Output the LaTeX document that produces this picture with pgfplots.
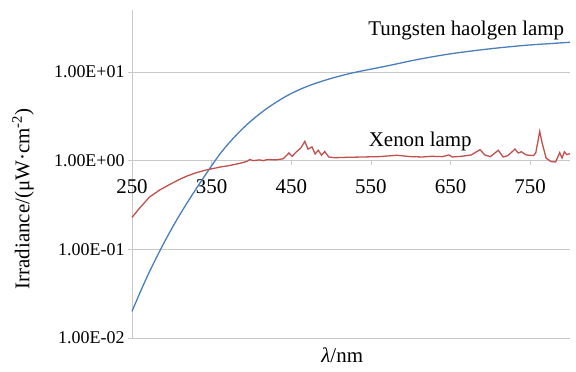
\documentclass[border=0pt]{standalone}
\usepackage{pgfplots}
\pgfplotsset{compat=1.18}
\usepackage{fontspec}
\setmainfont{Liberation Serif}
\definecolor{tblue}{HTML}{4A7EBB}
\definecolor{xred}{HTML}{C0504D}
\definecolor{gridgray}{HTML}{C8C8C8}
\begin{document}
\begin{tikzpicture}
\begin{axis}[name=ax, scale only axis, width=438bp, height=328bp,
  ymode=log, xmin=250, xmax=800, ymin=0.01, ymax=50,
  axis y line*=left, axis x line*=middle,
  axis line style={gridgray, line width=0.8pt},
  ytick={0.01,0.1,1,10}, yticklabels={1.00E-02,1.00E-01,1.00E+00,1.00E+01},
  xtick={250,350,450,550,650,750}, xticklabels={250,350,450,550,650,750},
  hide obscured x ticks=false,
  ymajorgrids, grid style={gridgray, line width=0.8pt},
  tick align=outside, major tick length=4bp, tick style={gridgray, line width=0.8pt},
  yminorticks=false, minor y tick num=0,
  xticklabel style={font=\fontsize{21}{21}\selectfont, yshift=-11bp, text=black},
  yticklabel style={font=\fontsize{18}{18}\selectfont, text=black},
  xlabel={\textit{λ}/nm},
  xlabel style={font=\fontsize{21}{21}\selectfont, at={(axis description cs:0.48,0)}, anchor=north, yshift=-6bp},
  ylabel={Irradiance/(μW·cm\textsuperscript{-2})},
  ylabel style={font=\fontsize{21}{21}\selectfont, at={(axis description cs:-0.249,0.424)}, anchor=center, rotate=0},
  clip=false,
]
\addplot[tblue, line width=1.3pt, smooth] coordinates {
(250,0.0200) (260,0.0324) (270,0.0513) (280,0.0785) (290,0.1175) (300,0.1718)
(310,0.2455) (320,0.3428) (330,0.4732) (340,0.6457) (350,0.877) (360,1.175)
(370,1.514) (380,1.905) (390,2.344) (400,2.831) (415,3.631) (430,4.498)
(445,5.420) (460,6.310) (475,7.161) (490,7.943) (505,8.710) (520,9.441)
(535,10.12) (550,10.76) (575,11.94) (600,13.34) (625,14.72) (650,16.03)
(675,17.18) (700,18.28) (725,19.28) (750,20.18) (775,20.89) (800,21.63)
};
\addplot[xred, line width=1.3pt] coordinates {
(250,0.229) (260,0.295) (272,0.389) (285,0.468) (297,0.537) (310,0.617)
(320,0.676) (331,0.733) (341,0.776) (351,0.813) (362,0.851) (372,0.879)
(383,0.923) (390,0.955) (395,0.99) (398,1.03) (402,1.00) (410,1.02)
(415,1.00) (420,1.03) (430,1.02) (440,1.05) (447,1.22) (451,1.12)
(457,1.27) (462,1.39) (467,1.65) (471,1.35) (476,1.43) (480,1.19)
(484,1.31) (488,1.15) (492,1.27) (497,1.10) (505,1.08) (520,1.09)
(540,1.10) (560,1.11) (583,1.15) (600,1.11) (615,1.10) (626,1.12)
(640,1.11) (648,1.16) (652,1.10) (664,1.12) (676,1.16) (687,1.33)
(693,1.16) (700,1.11) (710,1.31) (716,1.10) (722,1.14) (731,1.35)
(735,1.22) (739,1.26) (745,1.16) (754,1.14) (757,1.22) (762,2.14)
(765,1.58) (770,1.07) (776,0.977) (782,0.966) (787,1.23) (790,1.07)
(793,1.26) (796,1.17) (800,1.20)
};
\node[anchor=base east, font=\fontsize{21}{21}\selectfont] at (axis cs:797,25.7) {Tungsten haolgen lamp};
\node[anchor=base, font=\fontsize{21}{21}\selectfont] at (axis cs:612,1.45) {Xenon lamp};
\end{axis}
\path (ax.south west) ++(-132bp,-34bp) coordinate (a);
\path (ax.north east) ++(6bp,10bp) coordinate (b);
\path (a) rectangle (b);
\end{tikzpicture}
\end{document}
